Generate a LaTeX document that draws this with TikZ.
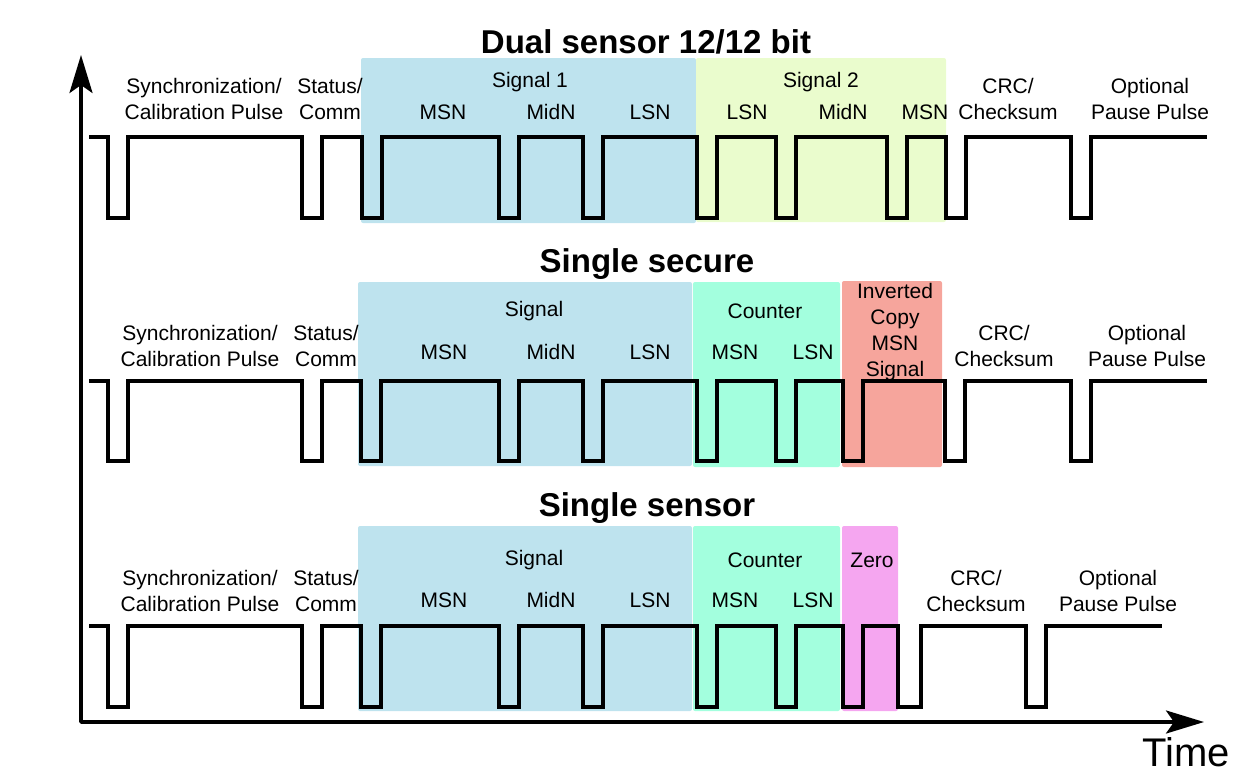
\documentclass[tikz,border=0pt]{standalone}
\usepackage{fontspec}
\setmainfont{Liberation Sans}
\usetikzlibrary{arrows.meta}
\definecolor{sigblue}{RGB}{190,227,238}
\definecolor{sigtwo}{RGB}{234,252,205}
\definecolor{cntgreen}{RGB}{163,255,222}
\definecolor{invred}{RGB}{246,165,156}
\definecolor{zeropink}{RGB}{245,166,240}
\newcommand\drawwave[5]{%
  \draw[wave] (#3,#1) \foreach \a/\b in {#5}{ -- (\a,#1) -- (\a,#2) -- (\b,#2) -- (\b,#1)} -- (#4,#1);%
}
\begin{document}
\begin{tikzpicture}[x=1pt,y=-1pt,
  lbl/.style={font=\fontsize{21}{26}\selectfont, align=center, anchor=base, inner sep=0pt},
  ttl/.style={font=\fontsize{33}{40}\selectfont\bfseries, anchor=base, inner sep=0pt},
  region/.style={rounded corners=2pt, draw=none},
  wave/.style={line width=3.5pt, line join=miter, line cap=butt},
  axis/.style={line width=3.5pt, line join=round, >={Stealth[length=38pt,width=23pt,inset=8pt]}, <->}
]
\useasboundingbox (0,0) rectangle (1250,777);

% ---------- coloured regions ----------
\fill[region, sigblue] (361,58) rectangle (696,223);
\fill[region, sigtwo] (696,58) rectangle (946,222);

\fill[region, sigblue] (358,282) rectangle (692,466);
\fill[region, cntgreen] (693,282) rectangle (840,467);
\fill[region, invred] (842,281) rectangle (942,467);

\fill[region, sigblue] (358,526) rectangle (692,711);
\fill[region, cntgreen] (693,526) rectangle (840,711);
\fill[region, zeropink] (842,526) rectangle (898,711);

% ---------- waveforms ----------
\drawwave{137}{218}{89}{1207}{108/128,302/322,362/382,499/519,583/603,697/717,776/796,887/907,946/966,1071/1091}
\drawwave{381}{461}{89}{1207}{108/128,302/322,361/381,499/519,583/603,697/717,776/796,843/863,945/965,1071/1091}
\drawwave{626}{707}{89}{1162}{108/128,302/322,361/381,499/519,583/603,697/717,776/796,843/863,898/921,1026/1046}

% ---------- axes ----------
\coordinate (ytip) at (81,55);
\coordinate (origin) at (81,722);
\coordinate (xtip) at (1204,722);
\draw[axis] (ytip) -- (origin) -- (xtip);
\node[font=\fontsize{40}{48}\selectfont, anchor=base, inner sep=0pt] (time) at (1186,766) {Time};

% ---------- titles ----------
\node[ttl] (t1) at (646,53) {Dual sensor 12/12 bit};
\node[ttl] (t2) at (647,272) {Single secure};
\node[ttl] (t3) at (647,516) {Single sensor};

% ---------- row 1 labels ----------
\node[lbl] (a1) at (204,119) {Synchronization/\\Calibration Pulse};
\node[lbl] (a2) at (330,119) {Status/\\Comm};
\node[lbl] (a3) at (530,87) {Signal 1};
\node[lbl] (a4) at (443,119) {MSN};
\node[lbl] (a5) at (551,119) {MidN};
\node[lbl] (a6) at (650,119) {LSN};
\node[lbl] (a7) at (821,87) {Signal 2};
\node[lbl] (a8) at (747,119) {LSN};
\node[lbl] (a9) at (843,119) {MidN};
\node[lbl] (a10) at (925,119) {MSN};
\node[lbl] (a11) at (1008,119) {CRC/\\Checksum};
\node[lbl] (a12) at (1150,119) {Optional\\Pause Pulse};

% ---------- row 2 labels ----------
\node[lbl] (b1) at (200,366) {Synchronization/\\Calibration Pulse};
\node[lbl] (b2) at (326,366) {Status/\\Comm};
\node[lbl] (b3) at (534,316) {Signal};
\node[lbl] (b4) at (444,359) {MSN};
\node[lbl] (b5) at (551,359) {MidN};
\node[lbl] (b6) at (650,359) {LSN};
\node[lbl] (b7) at (765,318) {Counter};
\node[lbl] (b8) at (735,359) {MSN};
\node[lbl] (b9) at (813,359) {LSN};
\node[lbl] (b10) at (895,376) {Inverted\\Copy\\MSN\\Signal};
\node[lbl] (b11) at (1004,366) {CRC/\\Checksum};
\node[lbl] (b12) at (1147,366) {Optional\\Pause Pulse};

% ---------- row 3 labels ----------
\node[lbl] (c1) at (200,611) {Synchronization/\\Calibration Pulse};
\node[lbl] (c2) at (326,611) {Status/\\Comm};
\node[lbl] (c3) at (534,565) {Signal};
\node[lbl] (c4) at (444,607) {MSN};
\node[lbl] (c5) at (551,607) {MidN};
\node[lbl] (c6) at (650,607) {LSN};
\node[lbl] (c7) at (765,567) {Counter};
\node[lbl] (c8) at (735,607) {MSN};
\node[lbl] (c9) at (813,607) {LSN};
\node[lbl] (c10) at (872,567) {Zero};
\node[lbl] (c11) at (976,611) {CRC/\\Checksum};
\node[lbl] (c12) at (1118,611) {Optional\\Pause Pulse};
\end{tikzpicture}
\end{document}
